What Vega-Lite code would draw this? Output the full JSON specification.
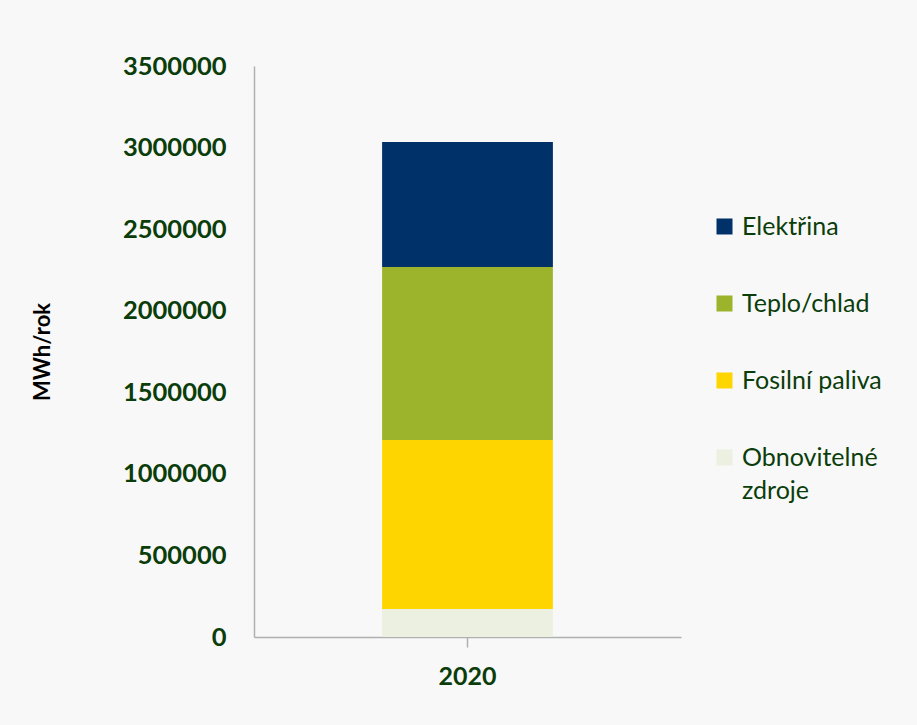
{
  "$schema": "https://vega.github.io/schema/vega-lite/v6.json",
  "autosize": {"type": "none"},
  "padding": {"left": 254, "top": 66, "right": 236, "bottom": 88},
  "width": 427,
  "height": 571,
  "background": "#f8f8f8",
  "data": {
    "values": [
      {"rok": "2020", "kategorie": "Obnovitelné zdroje", "poradi": 1, "hodnota": 172000},
      {"rok": "2020", "kategorie": "Fosilní paliva", "poradi": 2, "hodnota": 1036000},
      {"rok": "2020", "kategorie": "Teplo/chlad", "poradi": 3, "hodnota": 1060000},
      {"rok": "2020", "kategorie": "Elektřina", "poradi": 4, "hodnota": 766000}
    ]
  },
  "mark": {"type": "bar"},
  "encoding": {
    "x": {
      "field": "rok",
      "type": "nominal",
      "scale": {"paddingInner": 0, "paddingOuter": 0.75},
      "axis": {
        "title": null,
        "labelAngle": 0,
        "labelFont": "Lato",
        "labelFontSize": 25,
        "labelFontWeight": "bold",
        "labelColor": "#0b3d0b",
        "labelPadding": 17,
        "tickSize": 10,
        "tickColor": "#b0b0b0",
        "domainColor": "#b0b0b0",
        "domainWidth": 1.5,
        "tickWidth": 1.5
      }
    },
    "y": {
      "field": "hodnota",
      "type": "quantitative",
      "stack": "zero",
      "scale": {"domain": [0, 3500000], "nice": false},
      "axis": {
        "title": "MWh/rok",
        "titleFont": "Lato",
        "titleFontSize": 22,
        "titleFontWeight": "bold",
        "titleColor": "#000000",
        "titlePadding": 68,
        "values": [0, 500000, 1000000, 1500000, 2000000, 2500000, 3000000, 3500000],
        "format": "d",
        "labelFont": "Lato",
        "labelFontSize": 25.5,
        "labelFontWeight": "bold",
        "labelColor": "#0b3d0b",
        "labelPadding": 28,
        "ticks": false,
        "grid": false,
        "domainColor": "#b0b0b0",
        "domainWidth": 1.5
      }
    },
    "color": {
      "field": "kategorie",
      "type": "nominal",
      "scale": {
        "domain": ["Elektřina", "Teplo/chlad", "Fosilní paliva", "Obnovitelné zdroje"],
        "range": ["#003168", "#9bb42c", "#ffd500", "#ecf0e0"]
      },
      "legend": {
        "title": null,
        "orient": "none",
        "legendX": 458,
        "legendY": 148,
        "symbolType": "square",
        "symbolSize": 256,
        "symbolStrokeWidth": 0,
        "symbolOpacity": 1,
        "labelFont": "Lato",
        "labelFontSize": 25,
        "labelColor": "#0b3d0b",
        "labelOffset": 5,
        "rowPadding": 51,
        "labelLimit": 300,
        "labelBaseline": "middle",
        "labelExpr": "datum.label == 'Obnovitelné zdroje' ? ['Obnovitelné', 'zdroje'] : datum.label",
        "encode": {
          "labels": {"update": {"lineHeight": {"value": 33}}}
        }
      }
    },
    "order": {"field": "poradi", "type": "quantitative"}
  },
  "config": {"view": {"stroke": null}}
}
